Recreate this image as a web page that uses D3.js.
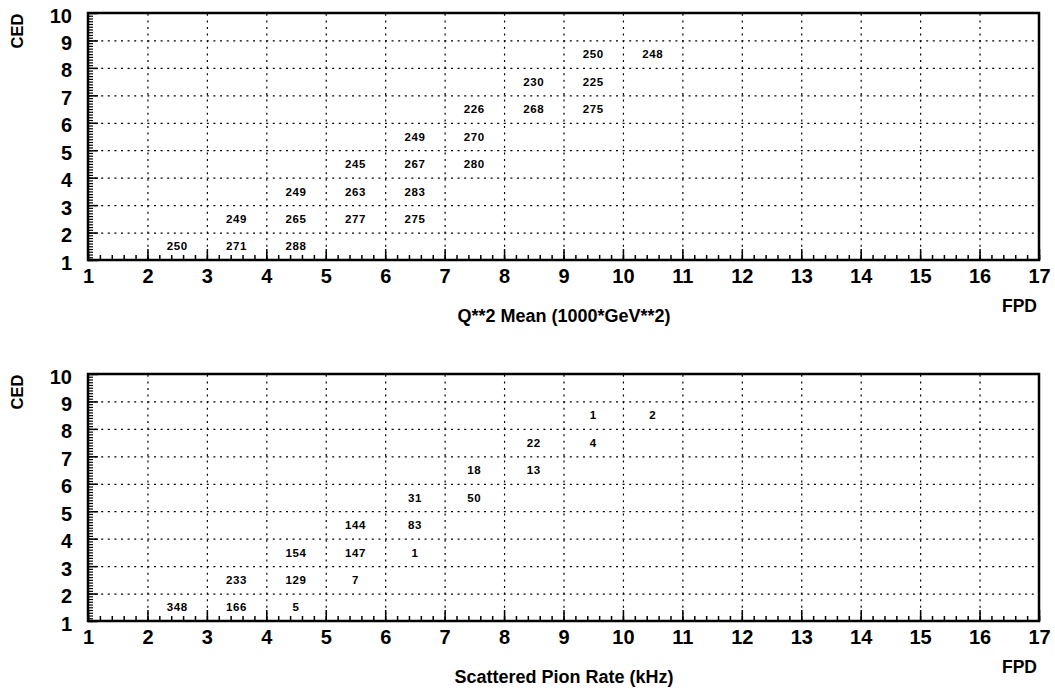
<!DOCTYPE html>
<html>
<head>
<meta charset="utf-8">
<script src="https://cdn.jsdelivr.net/npm/d3@7"></script>
<style>
  body { margin: 0; background: #fff; }
  svg { display: block; font-family: "Liberation Sans", Arial, sans-serif; }
</style>
</head>
<body>
<script>
// Chart size
const WIDTH = 1055;
const HEIGHT = 690;

// Bin centres (lower edges) on each axis
const fpdBins = [2, 3, 4, 3, 4, 5, 6, 4, 5, 6, 5, 6, 7, 6, 7, 7, 8, 9, 8, 9, 9, 10];
const cedBins = [1, 1, 1, 2, 2, 2, 2, 3, 3, 3, 4, 4, 4, 5, 5, 6, 6, 6, 7, 7, 8, 8];

// Cell values for the two panels (null = empty cell)
const q2Mean = [250, 271, 288, 249, 265, 277, 275, 249, 263, 283, 245, 267, 280, 249, 270, 226, 268, 275, 230, 225, 250, 248];
const pionRate = [348, 166, 5, 233, 129, 7, null, 154, 147, 1, 144, 83, null, 31, 50, 18, 13, null, 22, 4, 1, 2];

// Axis ticks
const xTicks = d3.range(1, 18);
const yTicks = d3.range(1, 11);

const panelTitles = ["Q**2 Mean (1000*GeV**2)", "Scattered Pion Rate (kHz)"];

// Frame geometry
const LEFT = 88, RIGHT = 1039, TOP = 13, BOTTOM = 260;
const PANEL_OFFSET = 361;

const x = d3.scaleLinear().domain([1, 17]).range([LEFT, RIGHT]);
const y = d3.scaleLinear().domain([1, 10]).range([BOTTOM, TOP]);

function initCanvas() {
    return d3.select("body")
        .append("svg")
        .attr("width", WIDTH)
        .attr("height", HEIGHT);
}

function drawPanel(svg, offset, values, title) {
    const g = svg.append("g").attr("transform", `translate(0,${offset})`);
    const plotH = BOTTOM - TOP;
    const plotW = RIGHT - LEFT;

    // dotted grid
    g.append("g")
        .attr("transform", `translate(0,${BOTTOM})`)
        .call(d3.axisBottom(x).tickValues(xTicks.slice(1, -1)).tickSize(-plotH).tickFormat(""))
        .call(a => a.select(".domain").remove())
        .call(a => a.selectAll("line").attr("stroke", "#000").attr("stroke-width", 1.2).attr("stroke-dasharray", "2,4.6"));
    g.append("g")
        .attr("transform", `translate(${LEFT},0)`)
        .call(d3.axisLeft(y).tickValues(yTicks.slice(1, -1)).tickSize(-plotW).tickFormat(""))
        .call(a => a.select(".domain").remove())
        .call(a => a.selectAll("line").attr("stroke", "#000").attr("stroke-width", 1.2).attr("stroke-dasharray", "2,4.6"));

    // minor ticks
    const xMinor = d3.range(1, 17.001, 0.2).map(v => +v.toFixed(2));
    const yMinor = d3.range(1, 10.001, 0.1).map(v => +v.toFixed(2));
    g.append("g")
        .attr("transform", `translate(0,${BOTTOM})`)
        .call(d3.axisBottom(x).tickValues(xMinor).tickSize(-5).tickFormat(""))
        .call(a => a.select(".domain").remove())
        .call(a => a.selectAll("line").attr("stroke", "#000").attr("stroke-width", 1.5));
    g.append("g")
        .attr("transform", `translate(${LEFT},0)`)
        .call(d3.axisLeft(y).tickValues(yMinor).tickSize(-5).tickFormat(""))
        .call(a => a.select(".domain").remove())
        .call(a => a.selectAll("line").attr("stroke", "#000").attr("stroke-width", 1.2));

    // major ticks + labels
    g.append("g")
        .attr("transform", `translate(0,${BOTTOM})`)
        .call(d3.axisBottom(x).tickValues(xTicks).tickSize(-11).tickPadding(9).tickFormat(d3.format("d")))
        .call(a => a.select(".domain").remove())
        .call(a => a.selectAll("line").attr("stroke", "#000").attr("stroke-width", 1.5))
        .call(a => a.selectAll("text").attr("fill", "#000").attr("font-size", 20).attr("font-weight", "bold")
            .attr("font-family", "Liberation Sans, Arial, sans-serif"));
    g.append("g")
        .attr("transform", `translate(${LEFT},0)`)
        .call(d3.axisLeft(y).tickValues(yTicks).tickSize(-10).tickPadding(16).tickFormat(d3.format("d")))
        .call(a => a.select(".domain").remove())
        .call(a => a.selectAll("line").attr("stroke", "#000").attr("stroke-width", 1.5))
        .call(a => a.selectAll("text").attr("fill", "#000").attr("font-size", 20).attr("font-weight", "bold")
            .attr("dy", "0.45em")
            .attr("font-family", "Liberation Sans, Arial, sans-serif"));

    // frame
    g.append("rect")
        .attr("x", LEFT).attr("y", TOP)
        .attr("width", plotW).attr("height", plotH)
        .attr("fill", "none").attr("stroke", "#000").attr("stroke-width", 2.5);

    // cell values
    const cells = values.map((v, i) => ({ fx: fpdBins[i], cy: cedBins[i], v }))
        .filter(d => d.v !== null);
    g.append("g").selectAll("text")
        .data(cells)
        .join("text")
        .attr("x", d => x(d.fx + 0.5))
        .attr("y", d => y(d.cy + 0.5))
        .attr("dy", "0.36em")
        .attr("text-anchor", "middle")
        .attr("font-size", 11.5)
        .attr("font-weight", "bold")
        .attr("letter-spacing", 0.6)
        .text(d => d.v);

    // axis titles
    g.append("text")
        .attr("transform", `translate(23,${TOP + 18}) rotate(-90)`)
        .attr("text-anchor", "middle")
        .attr("font-size", 16.5)
        .attr("font-weight", "bold")
        .text("CED");
    g.append("text")
        .attr("x", 1037).attr("y", BOTTOM + 52)
        .attr("text-anchor", "end")
        .attr("font-size", 17.5)
        .attr("font-weight", "bold")
        .text("FPD");
    g.append("text")
        .attr("x", 564).attr("y", BOTTOM + 62)
        .attr("text-anchor", "middle")
        .attr("font-size", 18)
        .attr("font-weight", "bold")
        .text(title);
}

function main() {
    const svg = initCanvas();
    drawPanel(svg, 0, q2Mean, panelTitles[0]);
    drawPanel(svg, PANEL_OFFSET, pionRate, panelTitles[1]);
}

main();
</script>
</body>
</html>
